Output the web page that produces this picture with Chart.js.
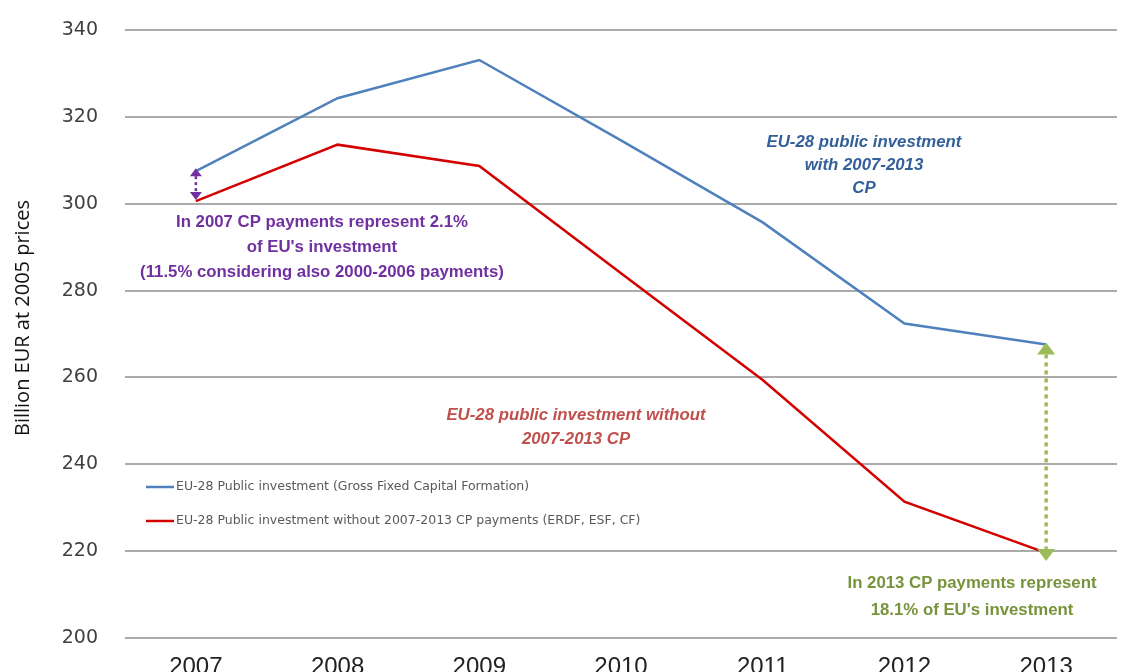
<!DOCTYPE html>
<html>
<head>
<meta charset="utf-8">
<script src="https://cdn.jsdelivr.net/npm/chart.js@4"></script>
<style>
  html, body { margin: 0; padding: 0; background: #fff; }
  #wrap { width: 1121px; height: 672px; }
</style>
</head>
<body>
<div id="wrap"><canvas id="investChart"></canvas></div>
<script>
// Years on the x axis
const years = ['2007', '2008', '2009', '2010', '2011', '2012', '2013'];

// Billion EUR at 2005 prices
const publicInvestment = [307.5, 324.3, 333.1, 314.6, 295.7, 272.4, 267.6];
const investmentWithoutCP = [300.6, 313.6, 308.7, 284.0, 259.4, 231.4, 219.6];

const yTicks = [200, 220, 240, 260, 280, 300, 320, 340];
const yTitle = 'Billion EUR at 2005 prices';

const legendLabels = [
    'EU-28 Public investment (Gross Fixed Capital Formation)',
    'EU-28 Public investment without 2007-2013 CP payments (ERDF, ESF, CF)'
];

const BLUE = '#4F81BD';
const RED = '#D40000';
const PURPLE = '#7030A0';
const GREEN = '#9BBB59';

/**
 * Draws a vertical dotted line with an arrow head on both ends
 */
function drawDoubleArrow(ctx, x, yTop, yBottom, color, width, head, dash) {
    ctx.save();
    ctx.strokeStyle = color;
    ctx.fillStyle = color;
    ctx.lineWidth = width;
    ctx.setLineDash(dash);
    ctx.beginPath();
    ctx.moveTo(x, yTop + head);
    ctx.lineTo(x, yBottom - head);
    ctx.stroke();
    ctx.setLineDash([]);
    let hw = head * 0.75;
    ctx.beginPath();
    ctx.moveTo(x, yTop);
    ctx.lineTo(x - hw, yTop + head);
    ctx.lineTo(x + hw, yTop + head);
    ctx.closePath();
    ctx.fill();
    ctx.beginPath();
    ctx.moveTo(x, yBottom);
    ctx.lineTo(x - hw, yBottom - head);
    ctx.lineTo(x + hw, yBottom - head);
    ctx.closePath();
    ctx.fill();
    ctx.restore();
}

/**
 * Writes a block of centred lines, one per entry
 */
function drawTextBlock(ctx, lines, cx, yStart, lineGap, font, color) {
    ctx.save();
    ctx.font = font;
    ctx.fillStyle = color;
    ctx.textAlign = 'center';
    ctx.textBaseline = 'middle';
    for (let i = 0; i < lines.length; i++) {
        ctx.fillText(lines[i], cx, yStart + i * lineGap);
    }
    ctx.restore();
}

const notesPlugin = {
    id: 'notes',
    afterDatasetsDraw(chart) {
        const ctx = chart.ctx;
        const x = chart.scales.x;
        const y = chart.scales.y;

        // axis title, a bit above the middle of the plot
        ctx.save();
        ctx.translate(23, 318);
        ctx.rotate(-Math.PI / 2);
        ctx.font = '20px "Open Sans"';
        ctx.fillStyle = '#111';
        ctx.textAlign = 'center';
        ctx.textBaseline = 'middle';
        ctx.fillText(yTitle, 0, 0);
        ctx.restore();

        // legend inside the plot
        ctx.save();
        ctx.font = '12.5px "DejaVu Sans"';
        ctx.fillStyle = '#595959';
        ctx.textBaseline = 'middle';
        let legendColors = [BLUE, RED];
        let legendY = [487, 521];
        for (let i = 0; i < legendLabels.length; i++) {
            ctx.strokeStyle = legendColors[i];
            ctx.lineWidth = 2.5;
            ctx.beginPath();
            ctx.moveTo(146, legendY[i]);
            ctx.lineTo(174, legendY[i]);
            ctx.stroke();
            ctx.fillText(legendLabels[i], 176, legendY[i]);
        }
        ctx.restore();

        // arrows between the two series in 2007 and 2013
        let x0 = x.getPixelForValue(0);
        drawDoubleArrow(ctx, x0, y.getPixelForValue(publicInvestment[0]) - 3,
            y.getPixelForValue(investmentWithoutCP[0]) - 1, PURPLE, 2.5, 8, [3, 3]);
        let x6 = x.getPixelForValue(6);
        drawDoubleArrow(ctx, x6, y.getPixelForValue(publicInvestment[6]) - 2,
            y.getPixelForValue(investmentWithoutCP[6]) + 8, GREEN, 3.5, 12, [4, 4]);

        drawTextBlock(ctx, [
            'In 2007 CP payments represent 2.1%',
            "of EU's investment",
            '(11.5% considering also 2000-2006 payments)'
        ], 322, 222, 25, 'bold 16.8px "Liberation Sans"', PURPLE);

        drawTextBlock(ctx, [
            'EU-28 public investment',
            'with 2007-2013',
            'CP'
        ], 864, 142, 23, 'italic bold 16.8px "Liberation Sans"', '#34609A');

        drawTextBlock(ctx, [
            'EU-28 public investment without',
            '2007-2013 CP'
        ], 576, 415, 24, 'italic bold 16.8px "Liberation Sans"', '#C0504D');

        drawTextBlock(ctx, [
            'In 2013 CP payments represent',
            "18.1% of EU's investment"
        ], 972, 583, 27, 'bold 16.8px "Liberation Sans"', '#77933C');
    }
};

const config = {
    type: 'line',
    data: {
        labels: years,
        datasets: [{
            label: legendLabels[0],
            data: publicInvestment,
            borderColor: BLUE,
            borderWidth: 2.5,
            pointRadius: 0,
            tension: 0,
            fill: false
        }, {
            label: legendLabels[1],
            data: investmentWithoutCP,
            borderColor: RED,
            borderWidth: 2.5,
            pointRadius: 0,
            tension: 0,
            fill: false
        }]
    },
    options: {
        responsive: true,
        maintainAspectRatio: false,
        animation: false,
        layout: {
            padding: { top: 30, right: 4, left: 0, bottom: 0 }
        },
        plugins: {
            legend: { display: false },
            tooltip: { enabled: false }
        },
        scales: {
            x: {
                offset: true,
                grid: { display: false },
                border: { display: false },
                ticks: {
                    color: '#222',
                    font: { family: 'Liberation Sans', size: 24 },
                    padding: 7,
                    maxRotation: 0
                },
                afterFit: function (scale) {
                    scale.height = 34;
                    scale.paddingLeft = 0;
                    scale.paddingRight = 0;
                }
            },
            y: {
                min: 200,
                max: 340,
                afterBuildTicks: function (scale) {
                    scale.ticks = yTicks.map(v => ({ value: v }));
                },
                grid: {
                    color: '#ABABAB',
                    lineWidth: 2,
                    drawTicks: false
                },
                border: { display: false },
                ticks: {
                    color: '#404040',
                    font: { family: 'DejaVu Sans', size: 19 },
                    padding: 27
                },
                afterFit: function (scale) {
                    scale.width = 125;
                    scale.paddingTop = 0;
                    scale.paddingBottom = 0;
                }
            }
        }
    },
    plugins: [notesPlugin]
};

new Chart(document.getElementById('investChart'), config);
</script>
</body>
</html>
